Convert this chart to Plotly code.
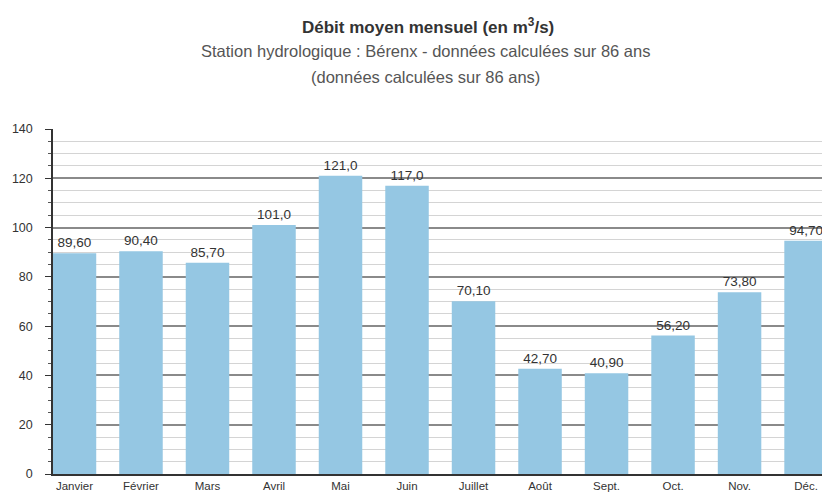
import plotly.graph_objects as go

months = ["Janvier", "Février", "Mars", "Avril", "Mai", "Juin",
          "Juillet", "Août", "Sept.", "Oct.", "Nov.", "Déc."]
debit = [89.6, 90.4, 85.7, 101.0, 121.0, 117.0, 70.1, 42.7, 40.9, 56.2, 73.8, 94.7]

title_text = "<b>Débit moyen mensuel (en m<sup>3</sup>/s)</b>"
subtitle_1 = "Station hydrologique : Bérenx - données calculées sur 86 ans"
subtitle_2 = "(données calculées sur 86 ans)"

labels = [f"{v:#.4g}".replace(".", ",") for v in debit]

# page has an 8px body margin: figure covers page x 8..830, y 8..493
OFF = 8
W, H = 830 - OFF, 493 - OFF
L, R, T, B = 53 - OFF, 0, 129 - OFF, 19
plot_h = H - T - B

def py(page_y):
    return (H - B - (page_y - OFF)) / plot_h

def px(page_x):
    return ((page_x - OFF) - L) / (W - L - R)

FONT = "Liberation Sans, Arial, sans-serif"

fig = go.Figure()
fig.add_trace(go.Bar(
    x=list(range(len(months))), y=debit,
    width=0.654,
    marker=dict(color="#95C7E3", line=dict(width=0)),
    text=labels, textposition="outside",
    textfont=dict(family=FONT, size=13.5, color="#333333"),
    cliponaxis=False,
))

fig.update_layout(
    width=W, height=H,
    margin=dict(l=L, r=R, t=T, b=B),
    plot_bgcolor="white", paper_bgcolor="white",
    showlegend=False,
    font=dict(family=FONT, color="#333333"),
)

fig.update_xaxes(
    range=[-0.323, 11.36],
    tickmode="array", tickvals=list(range(len(months))), ticktext=months,
    tickfont=dict(size=11.5, color="#333333"),
    showgrid=False, ticks="", ticklen=0,
    showline=True, linecolor="#333333", linewidth=1.5,
    automargin=False, zeroline=False,
)

fig.update_yaxes(
    range=[0, 140], dtick=20, tick0=0,
    tickfont=dict(size=12.5, color="#333333"),
    showgrid=True, gridcolor="#8a8a8a", gridwidth=1.5,
    ticks="outside", ticklen=6, tickcolor="#333333", tickwidth=1.2,
    ticklabelstandoff=10,
    showline=True, linecolor="#333333", linewidth=1.5,
    zeroline=False, automargin=False,
    minor=dict(dtick=5, showgrid=True, gridcolor="#d4d4d4", gridwidth=1,
               ticks="outside", ticklen=3, tickcolor="#555555"),
)

fig.add_annotation(text=title_text, xref="paper", yref="paper",
                   x=px(428), y=py(26), showarrow=False, xanchor="center", yanchor="middle",
                   font=dict(size=17, color="#333333"))
fig.add_annotation(text=subtitle_1, xref="paper", yref="paper",
                   x=px(425), y=py(51), showarrow=False, xanchor="center", yanchor="middle",
                   font=dict(size=16.5, color="#555555"))
fig.add_annotation(text=subtitle_2, xref="paper", yref="paper",
                   x=px(425), y=py(77), showarrow=False, xanchor="center", yanchor="middle",
                   font=dict(size=16.5, color="#555555"))

fig.write_html("out.html")
